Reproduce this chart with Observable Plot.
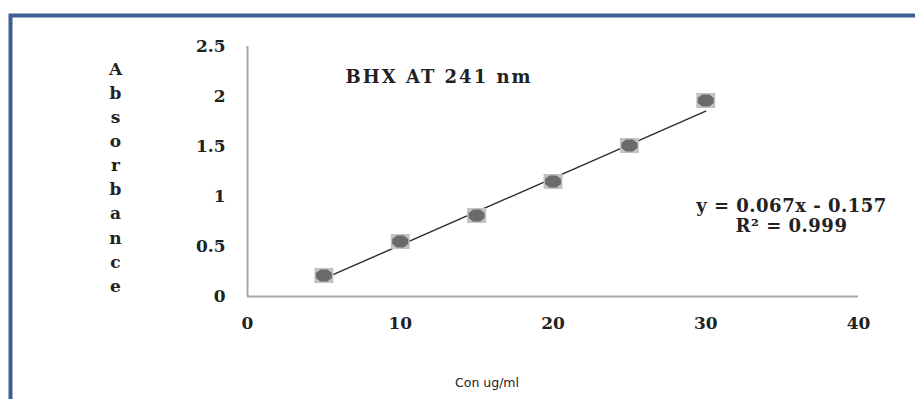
<!DOCTYPE html>
<html>
<head>
<meta charset="utf-8">
<script src="https://cdn.jsdelivr.net/npm/d3@7"></script>
<script src="https://cdn.jsdelivr.net/npm/@observablehq/plot@0.6"></script>
<style>
  html, body { margin: 0; padding: 0; background: #fff; overflow: hidden; }
  #chart { position: relative; width: 915px; height: 399px; }
</style>
</head>
<body>
<div id="chart"></div>
<script>
// Data
const concentrations = [5, 10, 15, 20, 25, 30];
const absorbances = [0.21, 0.55, 0.81, 1.15, 1.51, 1.96];
const xTicks = [0, 10, 20, 30, 40];
const yTicks = [0, 0.5, 1, 1.5, 2, 2.5];
const fitSlope = [0.067];
const fitIntercept = [-0.157];
const fitRange = [5, 30];
const titleText = "BHX AT 241 nm";
const equationText = "y = 0.067x - 0.157\nR² = 0.999";
const xLabelText = "Con ug/ml";
const yLabelText = "Absorbance";

const points = concentrations.map((c, i) => ({x: c, y: absorbances[i]}));
const fit = fitRange.map(x => ({x, y: fitSlope[0] * x + fitIntercept[0]}));

const serif = "'DejaVu Serif', 'Liberation Serif', serif";

// Marker shapes (style only): a light box with a darker chamfered core
const outerBox = {draw(ctx) { ctx.rect(-9.5, -7.5, 19, 15); }};
const innerCore = {draw(ctx) {
  ctx.moveTo(-8, -2.5); ctx.lineTo(-3.5, -6); ctx.lineTo(3.5, -6); ctx.lineTo(8, -2.5);
  ctx.lineTo(8, 2.5); ctx.lineTo(3.5, 6); ctx.lineTo(-3.5, 6); ctx.lineTo(-8, 2.5); ctx.closePath();
}};

const plot = Plot.plot({
  width: 915,
  height: 399,
  marginLeft: 247,
  marginRight: 57,
  marginTop: 46,
  marginBottom: 103,
  style: {fontFamily: serif, fontWeight: "bold", fontSize: "17px", color: "#222", background: "transparent"},
  x: {domain: [0, 40], ticks: xTicks},
  y: {domain: [0, 2.5], ticks: yTicks},
  marks: [
    Plot.axisX({ticks: xTicks, tickSize: 0, tickPadding: 20, label: null, tickFormat: d => `${d}`, fontFamily: serif, fontWeight: "bold", fontSize: 17}),
    Plot.axisY({ticks: yTicks, tickSize: 0, tickPadding: 22, label: null, tickFormat: d => `${d}`, fontFamily: serif, fontWeight: "bold", fontSize: 17}),
    Plot.ruleY([0], {stroke: "#a6a6a6", strokeWidth: 2, x1: 0, x2: 40}),
    Plot.ruleX([0], {stroke: "#a6a6a6", strokeWidth: 2, y1: 0, y2: 2.5}),
    Plot.line(fit, {x: "x", y: "y", stroke: "#2a2a2a", strokeWidth: 1.4}),
    Plot.dot(points, {x: "x", y: "y", symbol: outerBox, r: 8, fill: "#c2c2c2", stroke: "none"}),
    Plot.dot(points, {x: "x", y: "y", symbol: innerCore, r: 8, fill: "#6a6a6a", stroke: "none"}),
    Plot.text([titleText], {frameAnchor: "top-left", textAnchor: "start", lineAnchor: "middle", dx: 98, dy: 31, fontFamily: serif, fontWeight: "bold", fontSize: 18, fill: "#222"}),
    Plot.text([equationText], {frameAnchor: "top-right", textAnchor: "middle", lineAnchor: "middle", dx: -67, dy: 169, lineHeight: 1.15, fontFamily: serif, fontWeight: "bold", fontSize: 18, fill: "#222"}),
    Plot.text([xLabelText], {frameAnchor: "bottom", textAnchor: "middle", dx: -66, dy: 90, fontFamily: "'DejaVu Sans', Verdana, sans-serif", fontWeight: "normal", fontSize: 12.5, fill: "#222"}),
    Plot.text([yLabelText.split("").join("\n")], {frameAnchor: "left", textAnchor: "middle", lineAnchor: "middle", dx: -132, dy: 4, lineHeight: 1.42, fontFamily: serif, fontWeight: "bold", fontSize: 17, fill: "#222"})
  ]
});

document.getElementById("chart").appendChild(plot);

// Slightly wider tracking for the title and the equation, as in the reference
d3.select(plot).selectAll("text")
  .filter(function() { return this.textContent === titleText; })
  .attr("letter-spacing", "2px");
d3.select(plot).selectAll("text")
  .filter(function() { return this.textContent.startsWith("y = "); })
  .attr("letter-spacing", "0.5px");

// Decorative outer frame (blue border, cut off at right and bottom)
d3.select(plot).insert("rect", ":first-child")
  .attr("x", 10.5).attr("y", 15.5)
  .attr("width", 1000).attr("height", 1000)
  .attr("fill", "none")
  .attr("stroke", "#3d6090")
  .attr("stroke-width", 4);
</script>
</body>
</html>
